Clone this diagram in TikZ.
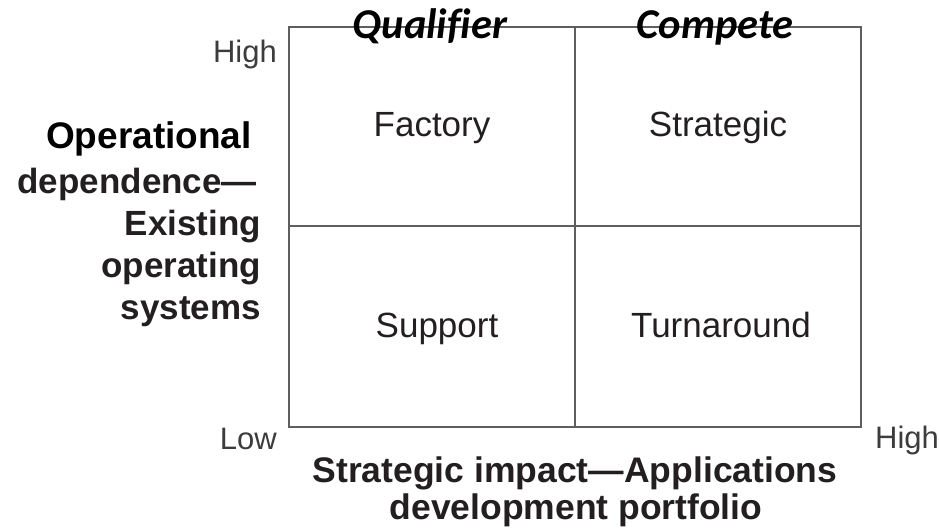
\documentclass[tikz,border=0pt]{standalone}
\usepackage{fontspec}
\setmainfont{Liberation Sans}
\newfontfamily\calfont[Ligatures=NoCommon]{Carlito}
\definecolor{ink}{HTML}{231F20}
\definecolor{axisgray}{HTML}{5E5E5E}
\definecolor{lightink}{HTML}{3C3C3C}
\begin{document}
\begin{tikzpicture}[x=1pt,y=-1pt,
  cell/.style={inner sep=0pt, anchor=base, text=ink, font=\fontsize{35}{42}\selectfont},
  axislbl/.style={inner sep=0pt, anchor=base east, text=ink, font=\bfseries\fontsize{35}{42}\selectfont},
  axiscenter/.style={inner sep=0pt, anchor=base, text=ink, font=\bfseries\fontsize{35.5}{42}\selectfont},
  ticklbl/.style={inner sep=0pt, text=lightink, font=\fontsize{31}{36}\selectfont},
  zone/.style={inner sep=0pt, anchor=base, text=black, font=\calfont\bfseries\itshape\fontsize{42.5}{48}\selectfont},
  gridline/.style={draw=axisgray, line width=1.4pt}]
\useasboundingbox (0,0) rectangle (939,530);
% grid
\coordinate (nw) at (289,27);
\coordinate (se) at (861,427);
\coordinate (topmid) at (575,27);
\coordinate (botmid) at (575,427);
\coordinate (leftmid) at (289,226);
\coordinate (rightmid) at (861,226);
\draw[gridline] (nw) rectangle (se);
\draw[gridline] (topmid) -- (botmid);
\draw[gridline] (leftmid) -- (rightmid);
% zone titles
\node[zone] (qual) at (430,38) {Qualifier};
\node[zone] (comp) at (715,38) {Compete};
% cells
\node[cell] (factory) at (432,136) {Factory};
\node[cell] (strategic) at (718,136) {Strategic};
\node[cell] (support) at (437,337) {Support};
\node[cell] (turn) at (721,337) {Turnaround};
% ticks
\node[ticklbl, anchor=base east] (yhigh) at (277,62) {High};
\node[ticklbl, anchor=base east] (xlow) at (277,449) {Low};
\node[ticklbl, anchor=base west] (xhigh) at (875,448) {High};
% y axis label
\node[inner sep=0pt, anchor=base east, text=black, font=\bfseries\fontsize{37}{44}\selectfont] (oper) at (252,148) {Operational};
\node[axislbl] (dep) at (257,193) {dependence—};
\node[axislbl] (exist) at (261,235) {Existing};
\node[axislbl] (operating) at (261,277) {operating};
\node[axislbl] (systems) at (261,319) {systems};
% x axis label
\node[axiscenter] (ximpact) at (575,482) {Strategic impact—Applications};
\node[axiscenter] (xdev) at (576,519) {development portfolio};
\end{tikzpicture}
\end{document}
